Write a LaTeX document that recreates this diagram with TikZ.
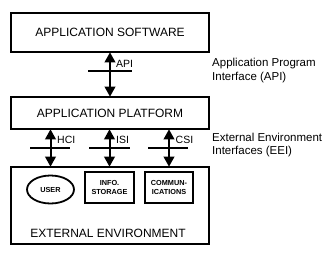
\documentclass[tikz,border=0pt]{standalone}
\usepackage{fontspec}
\setmainfont{Liberation Sans}
\usetikzlibrary{calc,arrows.meta,positioning,shapes.geometric}

\tikzset{
  layer/.style={draw, line width=1.6pt, minimum width=198pt, inner sep=0pt,
    font=\fontsize{12}{14}\selectfont},
  thing/.style={draw, line width=1.8pt, inner sep=0pt, align=center,
    font=\fontsize{7.3}{9}\selectfont\bfseries},
  biarrow/.style={line width=2pt, {Triangle[length=10pt,width=10.5pt]}-{Triangle[length=10pt,width=10.5pt]}, shorten <=-0.5pt, shorten >=-0.5pt},
  crossbar/.style={line width=1.5pt},
  iflabel/.style={anchor=west, inner sep=0pt, font=\fontsize{10.5}{12}\selectfont},
  sidenote/.style={anchor=west, inner sep=0pt, align=left,
    font=\fontsize{11.5}{13.8}\selectfont}
}

\begin{document}
\begin{tikzpicture}[x=1pt,y=-1pt]
    \useasboundingbox (0,0) rectangle (330,255);

    % the three layers
    \node[layer, minimum height=39pt] (sw) at (110,32.5) {APPLICATION SOFTWARE};
    \node[layer, minimum height=32pt] (pf) at (110,113) {APPLICATION PLATFORM};
    \node[layer, minimum height=77pt] (ee) at (110,205.5) {};
    \node[font=\fontsize{12}{14}\selectfont, inner sep=0pt] (eetext) at (108,233) {EXTERNAL ENVIRONMENT};

    % parts of the environment
    \node[thing, ellipse, minimum width=47pt, minimum height=28pt] (user) at (50.5,189.5) {USER};
    \node[thing, minimum width=49pt, minimum height=31pt] (info) at (109.5,187.5) {INFO.\\STORAGE};
    \node[thing, minimum width=48pt, minimum height=31pt] (comm) at (169,187.5) {COMMUN-\\ICATIONS};

    % interfaces
    \draw[biarrow] (sw.south) -- (pf.north);
    \draw[biarrow] (pf.south -| user) -- (ee.north -| user);
    \draw[biarrow] (pf.south -| info) -- (ee.north -| info);
    \draw[biarrow] (pf.south -| comm) -- (ee.north -| comm);

    \draw[crossbar] (88,71) -- (132,71);
    \draw[crossbar] (30,148) -- (70,148);
    \draw[crossbar] (89,148) -- (130,148);
    \draw[crossbar] (148,148) -- (188,148);

    \node[iflabel] (api) at (116,64) {API};
    \node[iflabel] (hci) at (57,140) {HCI};
    \node[iflabel] (isi) at (116,140) {ISI};
    \node[iflabel] (csi) at (175.5,140) {CSI};

    % notes on the right
    \node[sidenote] (apinote) at (212,70.5) {Application Program\\Interface (API)};
    \node[sidenote] (eeinote) at (212,145) {External Environment\\Interfaces (EEI)};

\end{tikzpicture}
\end{document}
